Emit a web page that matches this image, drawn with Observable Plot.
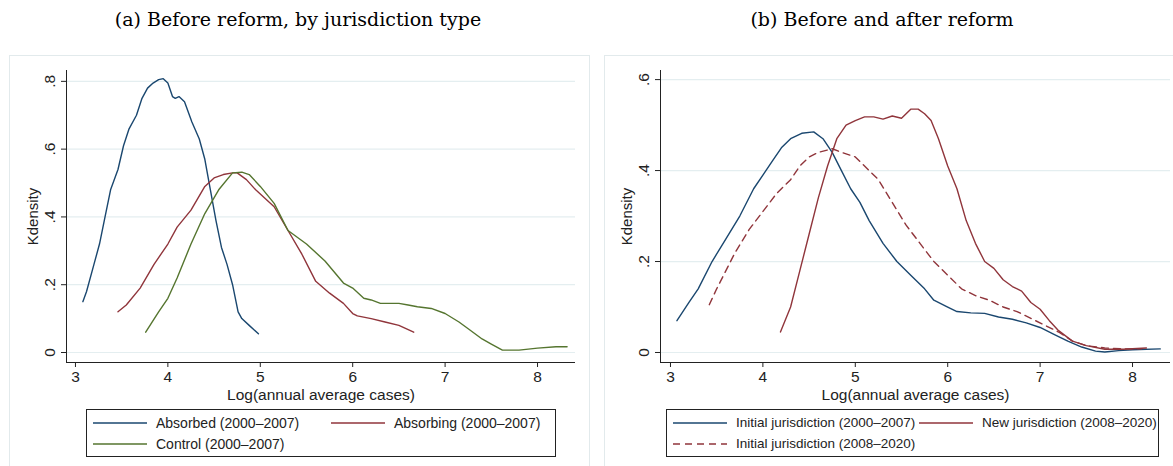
<!DOCTYPE html>
<html><head><meta charset="utf-8">
<script src="https://cdn.jsdelivr.net/npm/d3@7"></script>
<script src="https://cdn.jsdelivr.net/npm/@observablehq/plot@0.6"></script>
<style>
body{margin:0;background:#fff;width:1173px;height:466px;position:relative;overflow:hidden;font-family:"Liberation Sans",Arial,sans-serif}
.title{position:absolute;top:8px;font-family:"DejaVu Serif","Liberation Serif",serif;font-size:19px;text-align:center;width:560px}
.frame{position:absolute;top:55px;height:420px;border:1px solid #e2eaec;box-sizing:border-box}
.plot{position:absolute;top:50px}
.legend{position:absolute;top:409px;height:48px;border:1px solid #222;box-sizing:border-box;background:#fff;font-size:14px;color:#222}
.item{position:absolute;display:flex;align-items:center;white-space:nowrap}
.item svg{margin-right:9px}
</style></head><body>
<div class="title" style="left:18px">(a) Before reform, by jurisdiction type</div>
<div class="title" style="left:602px">(b) Before and after reform</div>
<div class="frame" style="left:9px;width:581px"></div>
<div class="frame" style="left:604px;width:580px"></div>
<div id="pa" class="plot" style="left:9px"></div>
<div id="pb" class="plot" style="left:604px"></div>
<div id="la" class="legend" style="left:86px;width:470px"></div>
<div id="lb" class="legend" style="left:666px;width:493px;font-size:13.5px"></div>
<script>
const absorbedX=[3.08,3.12,3.2,3.26,3.32,3.38,3.46,3.52,3.58,3.66,3.72,3.78,3.84,3.9,3.95,4.0,4.05,4.08,4.12,4.18,4.26,4.34,4.4,4.46,4.52,4.58,4.64,4.7,4.76,4.8,4.88,4.98];
const absorbedY=[0.15,0.18,0.26,0.32,0.4,0.48,0.54,0.61,0.66,0.7,0.75,0.78,0.795,0.805,0.808,0.795,0.755,0.75,0.755,0.74,0.68,0.63,0.57,0.48,0.39,0.31,0.26,0.2,0.12,0.1,0.08,0.055];
const absorbingX=[3.46,3.55,3.7,3.85,4.0,4.1,4.25,4.4,4.5,4.6,4.7,4.75,4.85,4.95,5.05,5.15,5.3,5.45,5.6,5.75,5.9,6.0,6.05,6.2,6.35,6.5,6.66];
const absorbingY=[0.12,0.14,0.19,0.26,0.32,0.37,0.42,0.49,0.515,0.525,0.53,0.53,0.51,0.48,0.455,0.43,0.36,0.29,0.21,0.175,0.145,0.115,0.108,0.1,0.09,0.08,0.06];
const controlX=[3.76,3.9,4.0,4.1,4.25,4.4,4.55,4.7,4.8,4.88,5.0,5.15,5.3,5.5,5.7,5.9,6.0,6.12,6.2,6.3,6.5,6.6,6.7,6.85,7.0,7.15,7.25,7.4,7.5,7.62,7.8,8.0,8.2,8.32];
const controlY=[0.06,0.12,0.16,0.22,0.32,0.41,0.48,0.53,0.532,0.525,0.49,0.44,0.36,0.32,0.27,0.205,0.19,0.16,0.155,0.145,0.145,0.14,0.135,0.13,0.115,0.09,0.07,0.04,0.025,0.007,0.007,0.013,0.017,0.017];
const init0X=[3.07,3.2,3.3,3.45,3.6,3.75,3.9,4.0,4.1,4.2,4.3,4.42,4.55,4.65,4.75,4.85,4.95,5.05,5.15,5.3,5.45,5.6,5.75,5.85,6.0,6.1,6.25,6.4,6.55,6.7,6.85,7.0,7.15,7.3,7.45,7.6,7.7,7.85,8.0,8.3];
const init0Y=[0.07,0.11,0.14,0.2,0.25,0.3,0.36,0.39,0.42,0.45,0.47,0.482,0.485,0.47,0.44,0.4,0.36,0.33,0.29,0.24,0.2,0.17,0.14,0.115,0.1,0.09,0.087,0.086,0.078,0.073,0.065,0.055,0.04,0.025,0.012,0.003,0.001,0.004,0.006,0.008];
const newX=[4.19,4.3,4.4,4.5,4.6,4.7,4.8,4.9,5.0,5.1,5.2,5.3,5.4,5.5,5.6,5.68,5.75,5.82,5.9,6.0,6.1,6.2,6.3,6.4,6.5,6.6,6.7,6.8,6.9,7.0,7.1,7.2,7.35,7.5,7.7,7.9,8.15];
const newY=[0.045,0.1,0.18,0.26,0.34,0.41,0.47,0.5,0.51,0.518,0.518,0.513,0.52,0.515,0.535,0.535,0.525,0.51,0.47,0.41,0.36,0.29,0.24,0.2,0.185,0.16,0.145,0.135,0.11,0.095,0.07,0.048,0.025,0.015,0.007,0.007,0.01];
const init1X=[3.42,3.5,3.6,3.7,3.85,4.0,4.15,4.3,4.4,4.5,4.6,4.75,4.85,5.0,5.1,5.25,5.4,5.55,5.7,5.85,6.0,6.15,6.3,6.45,6.6,6.75,6.9,7.05,7.2,7.35,7.5,7.7,7.9,8.1];
const init1Y=[0.105,0.14,0.18,0.22,0.27,0.31,0.35,0.38,0.41,0.43,0.44,0.448,0.44,0.43,0.41,0.38,0.33,0.28,0.24,0.2,0.17,0.14,0.125,0.115,0.1,0.09,0.075,0.06,0.045,0.025,0.015,0.01,0.008,0.008];
const xTicks=[3,4,5,6,7,8];
const yTicksA=[0,0.2,0.4,0.6,0.8];
const yTicksB=[0,0.2,0.4,0.6];
const yTickLabel=v=>v===0?"0":d3.format(".1f")(v).replace(/^0/,"");
const blue="#1a476f",red="#90353b",green="#55752f";
const pts=(xs,ys)=>xs.map((x,i)=>({x,y:ys[i]}));

function panel(el,series,yDomain,yTicks,xDomain,ml,mr,width){
  const fs=15.5,H=352,mt=20,mb=40;
  const y0=yDomain[0],x0=xDomain[0];
  const tY=(yDomain[1]-yDomain[0])/(H-mt-mb)*5;
  const tX=(xDomain[1]-xDomain[0])/(width-ml-mr)*5;
  const marks=[
    Plot.ruleY(yTicks,{y:d=>d,x1:x0,x2:xDomain[1],stroke:"#e4eef0",strokeWidth:1.2}),
    ...series.map(s=>Plot.line(pts(s.x,s.y),{x:"x",y:"y",stroke:s.c,strokeWidth:1.4,strokeDasharray:s.dash||null})),
    Plot.ruleX([x0],{x:d=>d,y1:y0,y2:yDomain[1],stroke:"#222"}),
    Plot.ruleY([y0],{y:d=>d,x1:x0,x2:xDomain[1],stroke:"#222"}),
    Plot.ruleX(xTicks,{x:d=>d,y1:y0,y2:y0-tY,stroke:"#222"}),
    Plot.text(xTicks,{x:d=>d,y:y0,dy:15,text:d=>String(d),fontSize:fs,fill:"#222"}),
    Plot.ruleY(yTicks,{y:d=>d,x1:x0,x2:x0-tX,stroke:"#222"}),
    Plot.text(yTicks,{y:d=>d,x:x0,dx:-16,text:yTickLabel,rotate:-90,fontSize:fs,fill:"#222"}),
    Plot.text(["Log(annual average cases)"],{x:(x0+xDomain[1])/2,y:y0,dy:33,fontSize:15.5,fill:"#222"}),
    Plot.text(["Kdensity"],{x:x0,y:(yDomain[0]+yDomain[1])/2,dx:-33,rotate:-90,fontSize:15,fill:"#222"})
  ];
  el.appendChild(Plot.plot({width,height:H,marginLeft:ml,marginRight:mr,marginTop:mt,marginBottom:mb,
    x:{type:"linear",domain:xDomain,axis:null},y:{type:"linear",domain:yDomain,axis:null},
    style:{fontFamily:"Liberation Sans, Arial, sans-serif",overflow:"visible",background:"transparent"},marks}));
}
panel(document.getElementById("pa"),[
  {x:absorbedX,y:absorbedY,c:blue},{x:absorbingX,y:absorbingY,c:red},{x:controlX,y:controlY,c:green}
],[-0.0295,0.832],yTicksA,[2.903,8.411],57,14,580);
panel(document.getElementById("pb"),[
  {x:init0X,y:init0Y,c:blue},{x:newX,y:newY,c:red},{x:init1X,y:init1Y,c:red,dash:"7,5"}
],[-0.022,0.62],yTicksB,[2.892,8.411],56,3,569);

function legend(el,items){
  items.forEach(it=>{
    const d=document.createElement("div");d.className="item";
    d.style.left=it.l+"px";d.style.top=it.t+"px";
    d.innerHTML=`<svg width="54" height="4"><line x1="0" y1="2" x2="54" y2="2" stroke="${it.c}" stroke-width="1.5" ${it.dash?'stroke-dasharray="7,5"':''}/></svg><span>${it.label}</span>`;
    el.appendChild(d);
  });
}
legend(document.getElementById("la"),[
  {l:6,t:5,c:blue,label:"Absorbed (2000–2007)"},
  {l:244,t:5,c:red,label:"Absorbing (2000–2007)"},
  {l:6,t:26,c:green,label:"Control (2000–2007)"}]);
legend(document.getElementById("lb"),[
  {l:6,t:5,c:blue,label:"Initial jurisdiction (2000–2007)"},
  {l:252,t:5,c:red,label:"New jurisdiction (2008–2020)"},
  {l:6,t:26,c:red,dash:true,label:"Initial jurisdiction (2008–2020)"}]);
</script></body></html>
